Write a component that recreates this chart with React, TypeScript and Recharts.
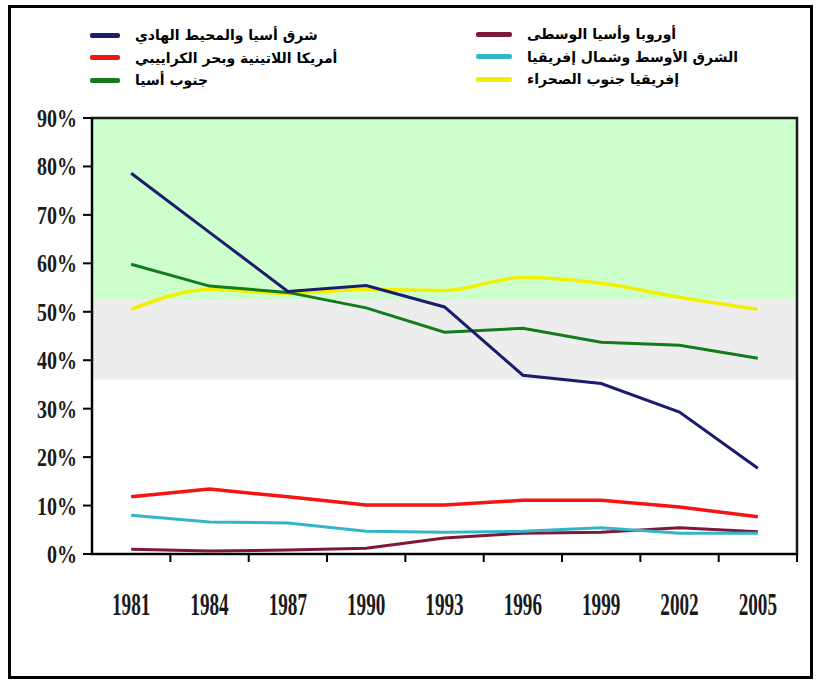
import React from "react";
import { LineChart, Line, XAxis, YAxis, ReferenceArea } from "recharts";

// years on the x axis
const years = ["1981", "1984", "1987", "1990", "1993", "1996", "1999", "2002", "2005"];

// share of population in poverty (%)
const eastAsiaPacific = [78.6, 66.4, 54.2, 55.4, 51.0, 36.9, 35.2, 29.3, 17.7];
const latinAmerica = [11.8, 13.4, 11.8, 10.1, 10.1, 11.1, 11.1, 9.7, 7.7];
const southAsia = [59.8, 55.3, 54.0, 50.8, 45.8, 46.6, 43.7, 43.1, 40.4];
const europeCentralAsia = [1.0, 0.6, 0.8, 1.2, 3.3, 4.3, 4.5, 5.4, 4.6];
const middleEastNorthAfrica = [8.0, 6.6, 6.4, 4.7, 4.5, 4.7, 5.4, 4.3, 4.3];
const subSaharanAfrica = [50.5, 54.6, 53.8, 54.6, 54.4, 57.1, 55.9, 53.0, 50.5];

// background bands (%)
const greenBand = [52.5, 90];
const grayBand = [36, 52.5];

const yTicks = [0, 10, 20, 30, 40, 50, 60, 70, 80, 90];
const xTicks = years.map((_, i) => i);

const series = [
  { key: "eap", name: "شرق أسيا والمحيط الهادي", color: "#1c1c6e", values: eastAsiaPacific },
  { key: "lac", name: "أمريكا اللاتينية وبحر الكراييبي", color: "#f41414", values: latinAmerica },
  { key: "sa", name: "جنوب أسيا", color: "#137a1e", values: southAsia },
  { key: "eca", name: "أوروبا وأسيا الوسطى", color: "#7d1838", values: europeCentralAsia },
  { key: "mena", name: "الشرق الأوسط وشمال إفريقيا", color: "#35b6c8", values: middleEastNorthAfrica },
  { key: "ssa", name: "إفريقيا جنوب الصحراء", color: "#f2f000", values: subSaharanAfrica },
];

const data = years.map((year, i) => {
  const row: Record<string, string | number> = { idx: i, year };
  series.forEach((s) => (row[s.key] = s.values[i]));
  return row;
});

const tickFont = "'Liberation Serif', 'DejaVu Serif', serif";
const halfStep = 39.2; // half the distance between two years, in px

function YTick({ x, y, payload }: any) {
  return (
    <g transform={`translate(${x},${y + 9})`}>
      <text transform="scale(0.8,1)" textAnchor="end" fontFamily={tickFont} fontWeight="bold" fontSize={25} fill="#1a1a1a">
        {payload.value}%
      </text>
    </g>
  );
}

// year label, plus the small tick at the boundary to the right of the year
function XTick({ x, y, payload }: any) {
  return (
    <g>
      <line x1={x + halfStep} y1={y} x2={x + halfStep} y2={y + 8} stroke="#000" strokeWidth={2} />
      <g transform={`translate(${x},${y + 61})`}>
        <text transform="scale(0.6,1)" textAnchor="middle" fontFamily={tickFont} fontWeight="bold" fontSize={32} fill="#1a1a1a">
          {years[payload.value]}
        </text>
      </g>
    </g>
  );
}

function LegendItem({ name, color, swatch }: { name: string; color: string; swatch: number }) {
  return (
    <div style={{ display: "flex", alignItems: "center", height: 22.5 }}>
      <div style={{ width: swatch, height: 5, background: color, borderRadius: 2, marginRight: 15 }} />
      <span dir="rtl" style={{ fontFamily: "'DejaVu Sans', sans-serif", fontWeight: "bold", fontSize: 14, color: "#000", whiteSpace: "nowrap" }}>
        {name}
      </span>
    </div>
  );
}

export default function App() {
  const leftCol = series.slice(0, 3);
  const rightCol = series.slice(3);
  return (
    <div style={{ position: "absolute", top: 0, left: 0, width: 817, height: 680, background: "#fff" }}>
      <div
        style={{
          position: "absolute",
          left: 8,
          top: 5,
          width: 805,
          height: 674,
          border: "3px solid #000",
          boxSizing: "border-box",
        }}
      />
      <div style={{ position: "absolute", left: 90, top: 24 }}>
        {leftCol.map((s) => (
          <LegendItem key={s.key} name={s.name} color={s.color} swatch={30} />
        ))}
      </div>
      <div style={{ position: "absolute", left: 476, top: 23 }}>
        {rightCol.map((s) => (
          <LegendItem key={s.key} name={s.name} color={s.color} swatch={36} />
        ))}
      </div>
      <div style={{ position: "absolute", top: 0, left: 0 }}>
        <LineChart width={817} height={680} data={data} margin={{ top: 118, right: 20, bottom: 66, left: 0 }}>
          <ReferenceArea y1={greenBand[0]} y2={greenBand[1]} fill="#ccffcc" fillOpacity={1} stroke="none" />
          <ReferenceArea y1={grayBand[0]} y2={grayBand[1]} fill="#ededed" fillOpacity={1} stroke="none" />
          {/* plot frame */}
          <ReferenceArea x1={-0.5} x2={8.5} y1={0} y2={90} fill="none" stroke="#1a1a1a" strokeWidth={2.5} ifOverflow="visible" />
          <XAxis
            dataKey="idx"
            type="number"
            domain={[-0.5, 8.5]}
            allowDataOverflow
            ticks={xTicks}
            interval={0}
            height={60}
            tickSize={0}
            tickMargin={0}
            tickLine={false}
            axisLine={{ stroke: "#000", strokeWidth: 2 }}
            tick={<XTick />}
          />
          <YAxis
            width={92}
            domain={[0, 90]}
            ticks={yTicks}
            interval={0}
            tickSize={9}
            tickMargin={6}
            axisLine={{ stroke: "#000", strokeWidth: 2 }}
            tickLine={{ stroke: "#000", strokeWidth: 2 }}
            tick={<YTick />}
          />
          <Line dataKey="ssa" type="monotone" stroke={series[5].color} strokeWidth={3.5} dot={false} isAnimationActive={false} />
          <Line dataKey="sa" type="linear" stroke={series[2].color} strokeWidth={3} dot={false} isAnimationActive={false} />
          <Line dataKey="lac" type="linear" stroke={series[1].color} strokeWidth={3.5} dot={false} isAnimationActive={false} />
          <Line dataKey="eca" type="linear" stroke={series[3].color} strokeWidth={3} dot={false} isAnimationActive={false} />
          <Line dataKey="mena" type="linear" stroke={series[4].color} strokeWidth={3} dot={false} isAnimationActive={false} />
          <Line dataKey="eap" type="linear" stroke={series[0].color} strokeWidth={3} dot={false} isAnimationActive={false} />
        </LineChart>
      </div>
    </div>
  );
}
